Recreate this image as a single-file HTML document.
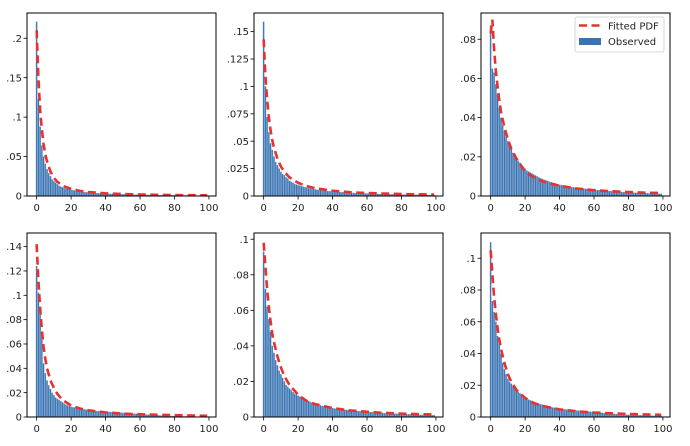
<!DOCTYPE html>
<html><head><meta charset="utf-8">
<style>
html,body{margin:0;padding:0;background:#fff;}
svg{display:block;font-family:"DejaVu Sans","Liberation Sans",sans-serif;}
</style></head>
<body>
<svg id="chart" width="690" height="446" viewBox="0 0 690 446"></svg>
<script>
// ---- data ----
const binCategories = Array.from({length:100},(_,i)=>i);
const pdfX = [0,1,2,3,4,5,6,8,10,12,15,20,25,30,40,50,60,70,80,90,99];

const observed1 = [.221,.123,.088,.064,.050,.041,.034,.029,.025,.021,.019,.017,.015,.013,.012,.011,.010,.0095,.009,.0085,.008,.0075,.007,.0066,.0062,.0058,.0055,.0052,.0049,.0047,.0045,.0043,.0041,.0039,.0037,.0036,.0034,.0033,.0032,.0031,.0030,.0029,.0028,.0027,.0026,.0025,.0024,.0024,.0023,.0022,.0021,.0021,.0020,.0019,.0019,.0018,.0018,.0017,.0017,.0016,.0016,.0015,.0015,.0014,.0014,.0013,.0013,.0013,.0012,.0012,.0011,.0011,.0011,.0010,.0010,.0010,.0009,.0009,.0009,.0009,.0008,.0008,.0008,.0008,.0007,.0007,.0007,.0007,.0006,.0006,.0006,.0006,.0006,.0005,.0005,.0005,.0005,.0005,.0005,.0004];
const fitted1 = [.21,.15,.11,.085,.066,.053,.044,.031,.023,.018,.013,.009,.0065,.005,.0034,.0025,.0019,.0015,.0012,.001,.0009];

const observed2 = [.159,.100,.072,.058,.048,.042,.036,.031,.028,.025,.022,.020,.019,.017,.016,.014,.013,.012,.011,.0105,.010,.0095,.009,.0085,.008,.0076,.0072,.0068,.0065,.0062,.006,.0057,.0055,.0053,.0051,.0049,.0047,.0045,.0044,.0042,.004,.0039,.0038,.0037,.0036,.0035,.0034,.0033,.0032,.0031,.003,.0029,.0028,.0027,.0027,.0026,.0025,.0025,.0024,.0023,.0023,.0022,.0021,.0021,.002,.002,.0019,.0019,.0018,.0018,.0017,.0017,.0016,.0016,.0016,.0015,.0015,.0014,.0014,.0014,.0013,.0013,.0013,.0012,.0012,.0012,.0011,.0011,.0011,.0011,.001,.001,.001,.0009,.0009,.0009,.0009,.0008,.0008,.0008];
const fitted2 = [.143,.11,.088,.072,.06,.051,.044,.034,.027,.022,.017,.012,.009,.007,.0048,.0035,.0027,.0022,.0018,.0015,.0013];

const observed3 = [.087,.065,.063,.057,.052,.045,.040,.036,.033,.030,.028,.026,.024,.022,.020,.019,.018,.017,.016,.015,.014,.013,.0125,.012,.0115,.011,.0105,.010,.0095,.009,.0087,.0083,.008,.0077,.0074,.0071,.0068,.0065,.0062,.006,.0058,.0056,.0054,.0052,.005,.0048,.0047,.0045,.0044,.0043,.0042,.0041,.004,.0039,.0038,.0037,.0036,.0035,.0034,.0033,.0032,.0031,.003,.003,.0029,.0028,.0027,.0027,.0026,.0025,.0025,.0024,.0023,.0023,.0022,.0022,.0021,.002,.002,.0019,.0019,.0018,.0018,.0017,.0017,.0016,.0016,.0015,.0015,.0015,.0014,.0014,.0013,.0013,.0013,.0012,.0012,.0012,.0011,.0011];
const fitted3 = [.083,.090,.075,.064,.056,.049,.043,.035,.029,.024,.019,.0125,.0095,.0075,.0052,.0038,.003,.0024,.002,.0017,.0015];

const observed4 = [.124,.102,.086,.066,.044,.036,.030,.026,.023,.020,.018,.016,.015,.014,.013,.012,.011,.010,.0095,.009,.0085,.008,.0078,.0075,.0072,.007,.0067,.0064,.0062,.006,.0058,.0056,.0054,.0052,.005,.0049,.0048,.0047,.0046,.0045,.0044,.0043,.0042,.0041,.004,.0039,.0038,.0037,.0036,.0035,.0034,.0033,.0032,.0031,.003,.0029,.0028,.0027,.0026,.0025,.0024,.0023,.0022,.0021,.002,.0019,.0018,.0017,.0016,.0015,.0014,.0013,.0012,.0011,.001,.001,.0009,.0009,.0008,.0008,.0007,.0007,.0006,.0006,.0006,.0005,.0005,.0005,.0004,.0004,.0004,.0004,.0003,.0003,.0003,.0003,.0003,.0002,.0002,.0002];
const fitted4 = [.142,.112,.09,.072,.058,.048,.04,.03,.024,.019,.014,.0095,.007,.0055,.0038,.0028,.0022,.0018,.0015,.0012,.001];

const observed5 = [.093,.072,.062,.055,.048,.040,.036,.032,.029,.026,.024,.022,.020,.018,.017,.016,.015,.014,.013,.0125,.012,.0115,.011,.0105,.01,.0095,.009,.0085,.0081,.0077,.0074,.0071,.0068,.0065,.0062,.006,.0058,.0056,.0054,.0052,.005,.0048,.0046,.0045,.0044,.0043,.0042,.0041,.004,.0039,.0038,.0037,.0036,.0035,.0034,.0033,.0032,.0031,.003,.003,.0029,.0028,.0027,.0027,.0026,.0025,.0025,.0024,.0023,.0023,.0022,.0022,.0021,.002,.002,.0019,.0019,.0018,.0018,.0017,.0017,.0016,.0016,.0015,.0015,.0015,.0014,.0014,.0013,.0013,.0013,.0012,.0012,.0012,.0011,.0011,.0011,.001,.001,.001];
const fitted5 = [.098,.085,.072,.062,.054,.047,.042,.034,.028,.023,.018,.0125,.009,.0072,.005,.0037,.0029,.0023,.0019,.0016,.0014];

const observed6 = [.110,.073,.066,.060,.051,.046,.040,.034,.030,.027,.024,.022,.021,.019,.018,.017,.016,.015,.014,.013,.012,.0115,.011,.0105,.01,.0095,.009,.0087,.0084,.0081,.0078,.0075,.0072,.0069,.0066,.0063,.006,.0058,.0056,.0054,.0052,.005,.0049,.0048,.0047,.0046,.0045,.0044,.0043,.0042,.0041,.004,.0039,.0038,.0037,.0036,.0035,.0034,.0033,.0032,.0031,.003,.0029,.0028,.0027,.0026,.0025,.0024,.0023,.0022,.0021,.002,.0019,.0018,.0017,.0016,.0016,.0015,.0015,.0014,.0014,.0013,.0013,.0012,.0012,.0011,.0011,.0011,.001,.001,.001,.0009,.0009,.0009,.0008,.0008,.0008,.0008,.0007,.0007];
const fitted6 = [.105,.09,.076,.065,.056,.049,.043,.034,.027,.022,.017,.012,.0088,.007,.0048,.0036,.0028,.0023,.0019,.0016,.0014];

const xTicks = [0,20,40,60,80,100];
const yTicks1 = [0,.05,.1,.15,.2];
const yTicks2 = [0,.025,.05,.075,.1,.125,.15];
const yTicks3 = [0,.02,.04,.06,.08];
const yTicks4 = [0,.02,.04,.06,.08,.1,.12,.14];
const yTicks5 = [0,.02,.04,.06,.08,.1];
const yTicks6 = [0,.02,.04,.06,.08,.1];
const yMax = [.232,.167,.0934,.1512,.1035,.1159];

// ---- layout ----
const NS="http://www.w3.org/2000/svg";
const svg=document.getElementById('chart');
function mk(tag,attrs,parent){const e=document.createElementNS(NS,tag);for(const k in attrs)e.setAttribute(k,attrs[k]);(parent||svg).appendChild(e);return e;}
function fmt(v){if(v===0)return '0';let s=String(+v.toFixed(4));return s.replace(/^0\./,'.');}

const cols=[27,254,481], W=189;
const rows=[[13,196],[233,417]];
const panels=[
 {obs:observed1,fit:fitted1,ticks:yTicks1},
 {obs:observed2,fit:fitted2,ticks:yTicks2},
 {obs:observed3,fit:fitted3,ticks:yTicks3},
 {obs:observed4,fit:fitted4,ticks:yTicks4},
 {obs:observed5,fit:fitted5,ticks:yTicks5},
 {obs:observed6,fit:fitted6,ticks:yTicks6}
];

panels.forEach((p,i)=>{
  const L=cols[i%3], R=L+W, T=rows[Math.floor(i/3)][0], B=rows[Math.floor(i/3)][1];
  const xmin=-5.6, xmax=104.1;
  const xs=v=>L+(v-xmin)/(xmax-xmin)*(R-L);
  const ys=v=>B-v/yMax[i]*(B-T);
  const g=mk('g',{});
  
  
  // bars
  const bg=mk('g',{},g);
  
  
  const bw=(xs(1)-xs(0));
  binCategories.forEach((c,k)=>{
    const v=p.obs[k]; if(v==null)return;
    const r=mk('rect',{x:xs(c)-bw*0.4,y:ys(v),width:bw*0.8,height:B-ys(v),fill:'#3a74b0',stroke:'#7fa6d0','stroke-width':0.3},bg);
    
    
  });
  // fitted line
  const d=pdfX.map((x,k)=>(k?'L':'M')+xs(x).toFixed(2)+','+ys(p.fit[k]).toFixed(2)).join(' ');
  const ln=mk('path',{d:d,fill:'none',stroke:'#e8312f','stroke-width':2.6,'stroke-dasharray':'8,4.5'},g);
  
  
  // frame
  const fr=mk('rect',{x:L,y:T,width:W,height:B-T,fill:'none',stroke:'#000','stroke-width':1},g);
  
  
  // x ticks
  xTicks.forEach(t=>{
    const x=xs(t);
    mk('line',{x1:x,y1:B,x2:x,y2:B+3.5,stroke:'#000','stroke-width':0.8},g);
    const tx=mk('text',{x:x,y:B+15,'text-anchor':'middle','font-size':10,fill:'#222'},g);
    tx.textContent=t;
    
    
  });
  p.ticks.forEach(t=>{
    const y=ys(t);
    mk('line',{x1:L-3.5,y1:y,x2:L,y2:y,stroke:'#000','stroke-width':0.8},g);
    const tx=mk('text',{x:L-5,y:y+3.6,'text-anchor':'end','font-size':10,fill:'#222'},g);
    tx.textContent=fmt(t);
    
    
  });
});

// legend in panel 3
const lg=mk('g',{});


mk('rect',{x:575,y:17,width:89,height:35,rx:2,fill:'#fff','fill-opacity':0.85,stroke:'#ccc','stroke-width':0.8},lg);
mk('line',{x1:579,y1:25.5,x2:602,y2:25.5,stroke:'#e8312f','stroke-width':2.6,'stroke-dasharray':'8,4.5'},lg);
mk('rect',{x:579,y:38,width:22,height:7,fill:'#3a74b0'},lg);
const t1=mk('text',{x:608,y:29.5,'font-size':10,fill:'#222'},lg);t1.textContent='Fitted PDF';


const t2=mk('text',{x:608,y:45,'font-size':10,fill:'#222'},lg);t2.textContent='Observed';


</script>
</body></html>
